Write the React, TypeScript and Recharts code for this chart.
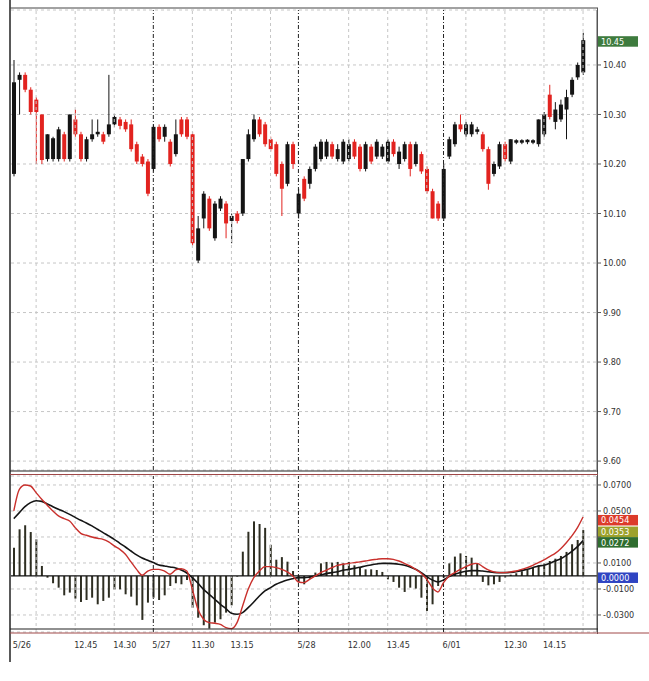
import React from 'react';
import { ComposedChart, Bar, Line, XAxis, YAxis, CartesianGrid, ReferenceLine } from 'recharts';

// 15-minute bars, 5/26 .. 6/01
const OPEN = [
  10.18, 10.37, 10.38, 10.35, 10.33, 10.30, 10.21, 10.21, 10.21, 10.26, 10.21, 10.29, 10.26, 10.21, 10.25, 10.26, 10.26, 10.26, 10.28, 10.29, 10.285, 10.28, 10.24, 10.215, 10.205,
  10.19, 10.275, 10.255, 10.245, 10.22, 10.29, 10.29, 10.26, 10.005, 10.09, 10.13, 10.05, 10.11, 10.12, 10.085, 10.10, 10.10, 10.21, 10.25, 10.29, 10.28, 10.25, 10.24, 10.20, 10.16, 10.24,
  10.10, 10.17, 10.16, 10.19, 10.21, 10.215, 10.24, 10.21, 10.205, 10.21, 10.245, 10.235, 10.19, 10.235, 10.215, 10.215, 10.205, 10.245, 10.20, 10.21, 10.24, 10.20, 10.22, 10.19, 10.145, 10.12, 10.09,
  10.215, 10.24, 10.28, 10.26, 10.26, 10.265, 10.26, 10.23, 10.18, 10.195, 10.24, 10.205, 10.243, 10.243, 10.244, 10.243, 10.24, 10.26, 10.34, 10.285, 10.29, 10.31, 10.34, 10.375, 10.385,
];
const HIGH = [
  10.41, 10.385, 10.385, 10.355, 10.335, 10.30, 10.26, 10.255, 10.275, 10.265, 10.30, 10.31, 10.265, 10.255, 10.29, 10.29, 10.265, 10.38, 10.30, 10.295, 10.29, 10.29, 10.245, 10.22, 10.21,
  10.28, 10.28, 10.28, 10.25, 10.29, 10.295, 10.295, 10.265, 10.095, 10.145, 10.135, 10.125, 10.135, 10.125, 10.10, 10.105, 10.21, 10.27, 10.30, 10.295, 10.285, 10.255, 10.245, 10.205, 10.245, 10.245,
  10.15, 10.175, 10.195, 10.24, 10.25, 10.25, 10.245, 10.24, 10.25, 10.25, 10.25, 10.24, 10.245, 10.24, 10.25, 10.24, 10.25, 10.25, 10.235, 10.245, 10.245, 10.245, 10.225, 10.195, 10.15, 10.125, 10.20,
  10.255, 10.285, 10.30, 10.285, 10.285, 10.275, 10.265, 10.235, 10.205, 10.245, 10.245, 10.25, 10.25, 10.25, 10.25, 10.25, 10.29, 10.305, 10.36, 10.325, 10.33, 10.35, 10.375, 10.405, 10.465,
];
const LOW = [
  10.175, 10.30, 10.345, 10.30, 10.20, 10.20, 10.205, 10.205, 10.205, 10.205, 10.205, 10.255, 10.205, 10.205, 10.245, 10.255, 10.24, 10.255, 10.275, 10.27, 10.265, 10.225, 10.20, 10.195, 10.135,
  10.185, 10.245, 10.245, 10.195, 10.215, 10.255, 10.25, 10.035, 10.00, 10.07, 10.065, 10.045, 10.105, 10.05, 10.04, 10.08, 10.095, 10.205, 10.245, 10.255, 10.235, 10.225, 10.175, 10.095, 10.155, 10.19,
  10.09, 10.125, 10.15, 10.185, 10.205, 10.21, 10.21, 10.205, 10.20, 10.205, 10.21, 10.185, 10.185, 10.20, 10.21, 10.21, 10.20, 10.215, 10.19, 10.205, 10.175, 10.195, 10.18, 10.14, 10.09, 10.085, 10.085,
  10.21, 10.235, 10.265, 10.255, 10.255, 10.26, 10.225, 10.148, 10.175, 10.19, 10.205, 10.20, 10.24, 10.24, 10.24, 10.24, 10.235, 10.255, 10.29, 10.27, 10.285, 10.25, 10.335, 10.37, 10.38,
];
const CLOSE = [
  10.365, 10.38, 10.35, 10.305, 10.305, 10.208, 10.26, 10.252, 10.27, 10.21, 10.30, 10.26, 10.21, 10.25, 10.26, 10.265, 10.245, 10.28, 10.295, 10.277, 10.27, 10.23, 10.205, 10.20, 10.14,
  10.275, 10.25, 10.275, 10.20, 10.26, 10.26, 10.255, 10.04, 10.07, 10.14, 10.07, 10.12, 10.13, 10.08, 10.095, 10.085, 10.21, 10.26, 10.29, 10.26, 10.24, 10.23, 10.18, 10.15, 10.24, 10.20,
  10.14, 10.13, 10.19, 10.235, 10.245, 10.245, 10.215, 10.23, 10.245, 10.24, 10.215, 10.19, 10.24, 10.205, 10.245, 10.235, 10.245, 10.22, 10.225, 10.24, 10.19, 10.24, 10.185, 10.145, 10.09, 10.09, 10.19,
  10.25, 10.28, 10.27, 10.28, 10.28, 10.27, 10.23, 10.16, 10.20, 10.24, 10.21, 10.25, 10.248, 10.248, 10.249, 10.248, 10.29, 10.30, 10.295, 10.31, 10.32, 10.335, 10.37, 10.40, 10.45,
];

// MACD panel, in units of 0.0001
const MACD = [
  500, 667, 700, 692, 641, 590, 544, 500, 462, 441, 423, 372, 328, 313, 300, 290, 282, 262, 231, 205, 167, 108, 51, 5, 38,
  51, 51, 38, 13, 46, 56, 38, -103, -256, -333, -359, -364, -372, -397, -405, -359, -231, -103, -13, 38, 72, 72, 64, 51, 31, 0,
  -46, -51, -26, 0, 26, 44, 64, 82, 90, 97, 103, 108, 115, 123, 128, 133, 133, 128, 115, 97, 77, 51, 21, -26, -90, -123, -51,
  0, 26, 51, 72, 90, 97, 72, 46, 31, 26, 26, 31, 38, 51, 64, 82, 103, 123, 149, 174, 210, 256, 308, 372, 454,
];
const SIGNAL = [
  441, 487, 533, 564, 579, 574, 554, 533, 513, 495, 474, 451, 428, 408, 385, 359, 333, 308, 282, 251, 223, 192, 162, 138, 121,
  103, 85, 77, 69, 62, 46, 23, -13, -56, -103, -141, -179, -218, -251, -287, -295, -282, -244, -200, -154, -115, -90, -64, -46, -31, -21,
  -13, -13, -8, 0, 8, 18, 26, 33, 44, 51, 59, 67, 77, 85, 92, 97, 97, 95, 90, 82, 69, 51, 26, -5, -31, -46, -31,
  -5, 13, 26, 36, 41, 41, 38, 33, 28, 26, 26, 28, 33, 41, 51, 64, 77, 82, 97, 115, 133, 159, 190, 226, 272,
];
const HIST = [
  218, 359, 390, 338, 282, 77, -13, -56, -90, -149, -128, -174, -200, -185, -167, -218, -192, -167, -103, -103, -141, -159, -226, -338, -205,
  -167, -185, -149, -77, -56, -64, -31, -244, -321, -379, -405, -359, -333, -282, -226, -5, 187, 340, 420, 400, 370, 240, 125, 145, 110, 38,
  -46, -64, -21, 26, 97, 108, 103, 108, 97, 108, 82, 64, 51, 51, 46, 31, -26, -46, -90, -123, -90, -97, -167, -269, -218, -77, -13,
  97, 149, 174, 154, 141, 97, -46, -72, -64, -46, -13, 10, 21, 36, 46, 64, 82, 97, 115, 133, 154, 185, 244, 277, 353,
];

const PRICE_TICKS = [9.6, 9.7, 9.8, 9.9, 10.0, 10.1, 10.2, 10.3, 10.4];
const MACD_TICKS = [0.07, 0.05, 0.03, 0.01, -0.01, -0.03];
const HIDDEN_MACD_TICKS = [0.03]; // covered by the value tags in the original
const GRID_IDX = [4, 11, 18, 32, 39, 46, 60, 67, 74, 81, 88, 95, 102];
const DAY_IDX = [25, 51, 77];
const X_LABELS: Record<number, string> = {
  0: '5/26', 11: '12.45', 18: '14.30', 25: '5/27', 32: '11.30', 39: '13.15',
  51: '5/28', 60: '12.00', 67: '13.45', 77: '6/01', 88: '12.30', 95: '14.15',
};

const FONT = '"Liberation Sans Narrow", "DejaVu Sans Condensed", "Liberation Sans", Arial, sans-serif';
const RED = '#e2231f';
const BLACK = '#141414';
const GRID = '#c6c6c6';

const rows: any[] = OPEN.map((o, i) => ({
  i,
  o,
  h: HIGH[i],
  l: LOW[i],
  c: CLOSE[i],
  range: [LOW[i], HIGH[i]],
  macd: MACD[i] / 10000,
  signal: SIGNAL[i] / 10000,
  hist: HIST[i] / 10000,
}));
rows.push({ i: OPEN.length }, { i: OPEN.length + 1 });

const Candle = (props: any) => {
  const { x, y, width, height, payload } = props;
  if (!payload || payload.h == null) return null;
  const { o, h, l, c } = payload;
  const top = Math.min(y, y + height);
  const hh = Math.abs(height);
  const span = h - l || 0.001;
  const toY = (v: number) => top + ((h - v) / span) * hh;
  const cx = x + width / 2;
  const b1 = toY(Math.max(o, c));
  const b2 = toY(Math.min(o, c));
  const col = c >= o ? BLACK : RED;
  return (
    <g>
      <line x1={cx} x2={cx} y1={top} y2={top + hh} stroke={col} strokeWidth={1} />
      <rect x={x} y={b1} width={width} height={Math.max(1.2, b2 - b1)} fill={col} />
    </g>
  );
};

// value tag on the right axis; shift nudges the stacked tags apart
const tag = (text: string, bg: string, shift = 0) => (props: any) => {
  const vb = props.viewBox || {};
  const x = (vb.x || 0) + (vb.width || 0) + 1;
  const y = (vb.y || 0) + shift;
  return (
    <g>
      <rect x={x} y={y - 5} width={40} height={10.5} fill={bg} />
      <text x={x + 3} y={y + 3.5} fontSize={9} fontFamily={FONT} fill="#fff">{text}</text>
    </g>
  );
};

const XTick = (props: any) => {
  const { x, y, payload } = props;
  const label = X_LABELS[payload.value];
  if (!label) return null;
  return (
    <text x={x - 1} y={y} dy={8} fontSize={9} fontFamily={FONT} fill="#333" textAnchor="start">{label}</text>
  );
};

const axisTick = { fontSize: 9, fill: '#333', fontFamily: FONT };

export default function App() {
  return (
    <div style={{ position: 'absolute', left: 0, top: 0, width: 649, height: 681, background: '#fff', overflow: 'hidden' }}>
      {/* price panel */}
      <div style={{ position: 'absolute', left: 0, top: 0 }}>
        <ComposedChart width={649} height={472} data={rows} margin={{ top: 10, right: 2, bottom: 2, left: 11 }}>
          <CartesianGrid vertical={false} stroke={GRID} strokeDasharray="3 3" />
          <XAxis dataKey="i" type="category" hide />
          <YAxis
            orientation="right"
            domain={[9.582, 10.511]}
            allowDataOverflow
            ticks={PRICE_TICKS}
            width={50}
            tickFormatter={(v: number) => v.toFixed(2)}
            tick={axisTick}
            tickSize={4}
            tickMargin={2}
            stroke="#555"
          />
          {GRID_IDX.map((g) => (
            <ReferenceLine key={'g' + g} x={g} stroke={GRID} strokeDasharray="3 3" />
          ))}
          {DAY_IDX.map((g) => (
            <ReferenceLine key={'d' + g} x={g} stroke="#222" strokeDasharray="4 2 1 2" />
          ))}
          <Bar dataKey="range" barSize={4} shape={(p: any) => <Candle {...p} />} isAnimationActive={false} />
          <ReferenceLine y={10.45} stroke="none" label={tag('10.45', '#3e7b3e', 1)} />
        </ComposedChart>
      </div>

      {/* MACD panel */}
      <div style={{ position: 'absolute', left: 0, top: 474 }}>
        <ComposedChart width={649} height={185} data={rows} margin={{ top: 2, right: 2, bottom: 2, left: 11 }}>
          <CartesianGrid vertical={false} stroke={GRID} strokeDasharray="3 3" />
          <XAxis
            dataKey="i"
            type="category"
            ticks={Object.keys(X_LABELS).map(Number)}
            interval={0}
            tick={<XTick />}
            tickLine={false}
            axisLine={false}
            height={25}
          />
          <YAxis
            orientation="right"
            domain={[-0.0431, 0.0769]}
            allowDataOverflow
            ticks={MACD_TICKS}
            width={50}
            tickFormatter={(v: number) => (HIDDEN_MACD_TICKS.includes(v) ? '' : v.toFixed(4))}
            tick={axisTick}
            tickSize={4}
            tickMargin={2}
            stroke="#555"
          />
          {GRID_IDX.map((g) => (
            <ReferenceLine key={'g' + g} x={g} stroke={GRID} strokeDasharray="3 3" />
          ))}
          {DAY_IDX.map((g) => (
            <ReferenceLine key={'d' + g} x={g} stroke="#222" strokeDasharray="4 2 1 2" />
          ))}
          <ReferenceLine y={0} stroke="#111" strokeWidth={1.3} />
          <Bar dataKey="hist" barSize={2} fill="#2e2e22" isAnimationActive={false} />
          <Line dataKey="signal" type="monotone" stroke="#151515" strokeWidth={1.6} dot={false} isAnimationActive={false} />
          <Line dataKey="macd" type="monotone" stroke="#c9302c" strokeWidth={1.4} dot={false} isAnimationActive={false} />
          <ReferenceLine y={0.0454} stroke="none" label={tag('0.0454', '#dc3b2a', 3)} />
          <ReferenceLine y={0.0353} stroke="none" label={tag('0.0353', '#9da22c', 1.5)} />
          <ReferenceLine y={0.0272} stroke="none" label={tag('0.0272', '#2f6d2f', 1.5)} />
          <ReferenceLine y={0} stroke="none" label={tag('0.0000', '#2f44c2', 1.5)} />
        </ComposedChart>
      </div>

      {/* frame lines */}
      <svg width={649} height={681} style={{ position: 'absolute', left: 0, top: 0, pointerEvents: 'none' }}>
        <line x1={10} y1={0} x2={10} y2={662} stroke="#222" strokeWidth={1.5} />
        <line x1={10} y1={8} x2={598} y2={8} stroke="#444" strokeWidth={1} />
        <line x1={597.5} y1={8} x2={597.5} y2={634} stroke="#555" strokeWidth={1} />
        <line x1={10} y1={471} x2={598} y2={471} stroke="#222" strokeWidth={1.2} />
        <line x1={10} y1={474.5} x2={598} y2={474.5} stroke="#a04848" strokeWidth={1} />
        <line x1={10} y1={629} x2={598} y2={629} stroke="#222" strokeWidth={1.2} />
        <line x1={10} y1={633} x2={649} y2={633} stroke="#a04848" strokeWidth={1} />
      </svg>
    </div>
  );
}
